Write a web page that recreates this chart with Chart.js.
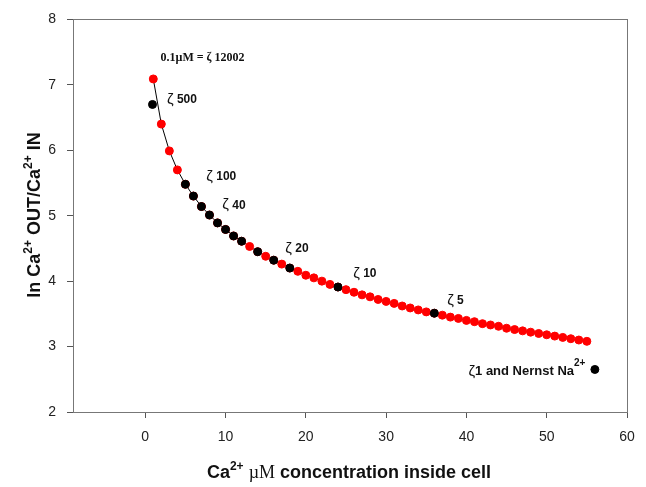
<!DOCTYPE html>
<html>
<head>
<meta charset="utf-8">
<script src="https://cdn.jsdelivr.net/npm/chart.js@4.4.1/dist/chart.umd.min.js"></script>
<style>
  body { margin: 0; background: #fff; }
  canvas { display: block; }
</style>
</head>
<body>
<canvas id="chart" width="646" height="487"></canvas>
<script>
// red points: Ca2+ inside (uM) and ln(out/in)
var redX = [1, 2, 3, 4, 5, 6, 7, 8, 9, 10, 11, 12, 13, 14, 15, 16, 17, 18, 19, 20,
            21, 22, 23, 24, 25, 26, 27, 28, 29, 30, 31, 32, 33, 34, 35, 36, 37, 38, 39, 40,
            41, 42, 43, 44, 45, 46, 47, 48, 49, 50, 51, 52, 53, 54, 55];
var redY = [7.09, 6.40, 5.99, 5.70, 5.48, 5.30, 5.14, 5.01, 4.89, 4.79, 4.69, 4.61, 4.53, 4.45, 4.38, 4.32, 4.26, 4.20, 4.15, 4.09,
            4.05, 4.00, 3.95, 3.91, 3.87, 3.83, 3.79, 3.76, 3.72, 3.69, 3.66, 3.62, 3.59, 3.56, 3.53, 3.51, 3.48, 3.45, 3.43, 3.40,
            3.38, 3.35, 3.33, 3.31, 3.28, 3.26, 3.24, 3.22, 3.20, 3.18, 3.16, 3.14, 3.12, 3.10, 3.08];

// black points (zeta values)
var blackX = [0.9, 5, 6, 7, 8, 9, 10, 11, 12, 14, 16, 18, 24, 36, 56];
var blackY = [6.70, 5.48, 5.30, 5.14, 5.01, 4.89, 4.79, 4.69, 4.61, 4.45, 4.32, 4.20, 3.91, 3.51, 2.65];

var xTicks = [0, 10, 20, 30, 40, 50, 60];
var yTicks = [2, 3, 4, 5, 6, 7, 8];

var zetaLabels = ['500', '100', '40', '20', '10', '5'];
var zetaLabelX = [2.7, 7.6, 9.6, 17.45, 25.9, 37.6];
var zetaLabelY = [6.77, 5.59, 5.16, 4.50, 4.11, 3.70];

var SANS = '"Liberation Sans", Arial, sans-serif';
var SERIF = '"Liberation Serif", "Times New Roman", serif';

function toPoints(xs, ys) {
    return xs.map(function(x, i) { return { x: x, y: ys[i] }; });
}

// draws a run of text pieces [text, font, dy] starting at x (or centered)
function drawRich(ctx, segs, x, y, center) {
    var total = 0;
    segs.forEach(function(s) { ctx.font = s[1]; total += ctx.measureText(s[0]).width; });
    var cx = center ? x - total / 2 : x;
    segs.forEach(function(s) {
        ctx.font = s[1];
        ctx.fillText(s[0], cx, y + (s[2] || 0));
        cx += ctx.measureText(s[0]).width;
    });
}

var textPlugin = {
    id: 'texts',
    afterDraw: function(chart) {
        var ctx = chart.ctx;
        var a = chart.chartArea;
        var xs = chart.scales.x, ys = chart.scales.y;

        // frame
        ctx.save();
        ctx.strokeStyle = '#777';
        ctx.lineWidth = 1;
        ctx.strokeRect(Math.round(a.left) + 0.5, Math.round(a.top) + 0.5,
                       Math.round(a.right - a.left), Math.round(a.bottom - a.top));

        ctx.fillStyle = '#111';
        ctx.textBaseline = 'middle';
        ctx.textAlign = 'left';

        // zeta annotations
        zetaLabels.forEach(function(lab, i) {
            drawRich(ctx, [
                ['ζ', '15px ' + SANS, 0],
                [' ' + lab, 'bold 12px ' + SANS, 0]
            ], xs.getPixelForValue(zetaLabelX[i]), ys.getPixelForValue(zetaLabelY[i]), false);
        });

        drawRich(ctx, [['0.1µM = ζ 12002', 'bold 12px ' + SERIF, 0]],
                 xs.getPixelForValue(1.9), ys.getPixelForValue(7.41), false);

        drawRich(ctx, [
            ['ζ', '15px ' + SANS, 0],
            ['1 and Nernst Na', 'bold 13px ' + SANS, 0],
            ['2+', 'bold 10px ' + SANS, -8]
        ], xs.getPixelForValue(40.25), ys.getPixelForValue(2.62), false);

        // axis titles
        ctx.textBaseline = 'alphabetic';
        var big = 'bold 18px ' + SANS, sup = 'bold 12px ' + SANS;
        drawRich(ctx, [
            ['Ca', big, 0], ['2+', sup, -8], [' ', big, 0],
            ['µM', '18px ' + SERIF, 0],
            [' concentration inside cell', big, 0]
        ], 349, 478, true);

        ctx.translate(40, 215);
        ctx.rotate(-Math.PI / 2);
        drawRich(ctx, [
            ['ln Ca', big, 0], ['2+', sup, -8], [' OUT/Ca', big, 0], ['2+', sup, -8], [' IN', big, 0]
        ], 0, 0, true);
        ctx.restore();
    }
};

new Chart(document.getElementById('chart'), {
    type: 'scatter',
    data: {
        datasets: [{
            label: 'zeta',
            data: toPoints(blackX, blackY),
            pointRadius: 4,
            pointBorderWidth: 1,
            pointBackgroundColor: '#000',
            pointBorderColor: '#000',
            order: 0
        }, {
            label: 'ln ratio',
            data: toPoints(redX, redY),
            showLine: true,
            borderColor: '#000',
            borderWidth: 1,
            pointRadius: 4,
            pointBorderWidth: 1,
            pointBackgroundColor: '#ff0000',
            pointBorderColor: '#ff0000',
            order: 1
        }]
    },
    options: {
        responsive: false,
        animation: false,
        layout: { padding: { left: 0, right: 19, top: 14, bottom: 0 } },
        plugins: { legend: { display: false }, tooltip: { enabled: false } },
        scales: {
            x: {
                type: 'linear',
                min: -9,
                max: 60,
                afterBuildTicks: function(axis) {
                    axis.ticks = xTicks.map(function(v) { return { value: v }; });
                },
                afterFit: function(axis) { axis.height = 75; },
                grid: { drawOnChartArea: false, tickLength: 6, color: '#555' },
                border: { display: false },
                ticks: { padding: 11, color: '#222', font: { family: SANS, size: 14 } }
            },
            y: {
                type: 'linear',
                min: 2,
                max: 8,
                afterBuildTicks: function(axis) {
                    axis.ticks = yTicks.map(function(v) { return { value: v }; });
                },
                afterFit: function(axis) { axis.width = 73; },
                grid: { drawOnChartArea: false, tickLength: 6, color: '#555' },
                border: { display: false },
                ticks: { padding: 11, color: '#222', font: { family: SANS, size: 14 } }
            }
        }
    },
    plugins: [textPlugin]
});
</script>
</body>
</html>
